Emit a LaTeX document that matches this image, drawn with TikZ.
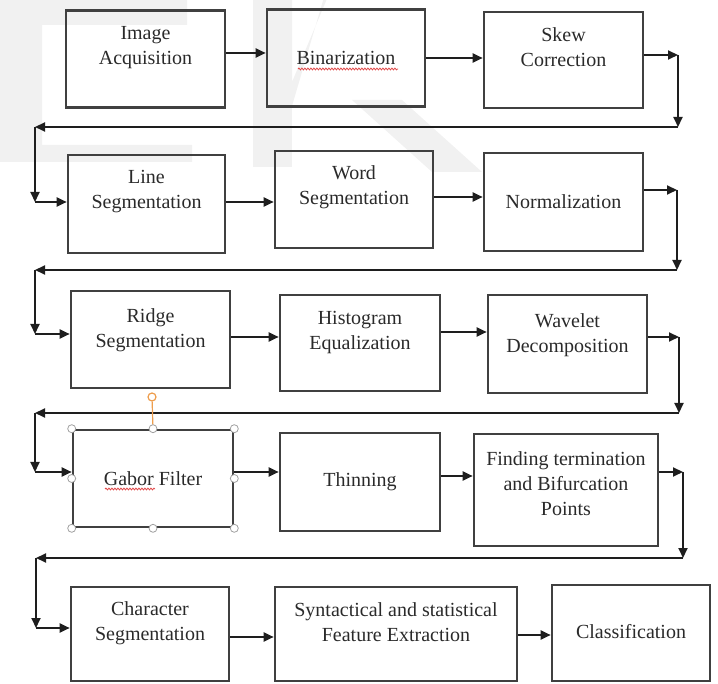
\documentclass[tikz,border=0pt]{standalone}
\usepackage{fontspec}
\setmainfont{Liberation Serif}
\usepackage{xcolor}
\usepackage{tikz}
\usetikzlibrary{arrows.meta,decorations.pathmorphing}
\definecolor{ink}{HTML}{1E1E1E}
\definecolor{edge}{HTML}{404040}
\definecolor{txt}{HTML}{2A2A2A}
\definecolor{wmark}{HTML}{F1F1F1}
\definecolor{hgray}{HTML}{A0A0A0}
\definecolor{orng}{HTML}{EE9E4E}
\definecolor{squig}{HTML}{E04848}
\tikzset{
  box/.style={draw=edge, line width=2.6pt, minimum width=159pt, minimum height=97pt, inner sep=0pt},
  lbl/.style={text=txt, font=\fontsize{20}{25}\selectfont, align=center},
  arr/.style={draw=ink, line width=2pt, -{Triangle[length=10pt,width=9pt]}},
  wavy/.style={draw=squig, line width=0.8pt, decorate, decoration={snake, amplitude=0.9pt, segment length=3pt}},
  hnd/.style={circle, draw=hgray, fill=white, line width=0.8pt, inner sep=0pt, minimum size=8pt},
  rothnd/.style={circle, draw=orng, fill=white, line width=1.2pt, inner sep=0pt, minimum size=8pt},
  rotline/.style={draw=orng, line width=1.2pt}
}

\begin{document}
\begin{tikzpicture}[x=1pt,y=-1pt]
  \useasboundingbox (0,0) rectangle (718,684);

  % faint watermark letters
  \fill[wmark] (0,0) rectangle (42,162) (42,0) rectangle (187,25) (42,145) rectangle (192,162);
  \fill[wmark] (253,0) rectangle (292,167);
  \fill[wmark, even odd rule] (292,-30) -- (372,-30) arc[start angle=90, end angle=-90, radius=68] -- (292,106) -- cycle
    (292,-6) -- (366,-6) arc[start angle=90, end angle=-90, radius=44] -- (292,82) -- cycle;
  \fill[wmark] (352,100) -- (402,100) -- (482,172) -- (432,172) -- cycle;

  % boxes
  \node[box] (acq) at (145.5,59) {};
  \node[box, minimum width=158pt] (bin) at (346,58) {};
  \node[box, minimum height=96pt] (skew) at (563.5,60) {};
  \node[box, minimum width=157pt, minimum height=98pt] (line) at (146.5,204) {};
  \node[box, minimum width=158pt] (word) at (354,199.5) {};
  \node[box, minimum height=98pt] (norm) at (563.5,202) {};
  \node[box] (ridge) at (150.5,339.5) {};
  \node[box, minimum width=160pt, minimum height=96pt] (hist) at (360,343) {};
  \node[box, minimum height=98pt] (wave) at (567.5,344) {};
  \node[box, minimum width=160pt] (gabor) at (153,478.5) {};
  \node[box, minimum width=160pt, minimum height=98pt] (thin) at (360,482) {};
  \node[box, minimum width=184pt, minimum height=112pt] (find) at (566,490) {};
  \node[box, minimum width=158pt, minimum height=94pt] (char) at (150,634) {};
  \node[box, minimum width=242pt, minimum height=94pt] (feat) at (396,634) {};
  \node[box, minimum width=158pt, minimum height=96pt] (class) at (631,633) {};

  % texts
  \node[lbl] (acqT) at ([yshift=11pt]acq.center) {Image\\Acquisition};
  \node[lbl] (binT) at (bin.center) {Binarization};
  \node[lbl] (skewT) at ([yshift=13pt]skew.center) {Skew\\Correction};
  \node[lbl] (lineT) at ([yshift=12pt]line.center) {Line\\Segmentation};
  \node[lbl] (wordT) at ([yshift=12pt]word.center) {Word\\Segmentation};
  \node[lbl] (normT) at (norm.center) {Normalization};
  \node[lbl] (ridgeT) at ([yshift=9pt]ridge.center) {Ridge\\Segmentation};
  \node[lbl] (histT) at ([yshift=10pt]hist.center) {Histogram\\Equalization};
  \node[lbl] (waveT) at ([yshift=9pt]wave.center) {Wavelet\\Decomposition};
  \node[lbl] (gaborT) at (gabor.center) {Gabor Filter};
  \node[lbl] (thinT) at (thin.center) {Thinning};
  \node[lbl] (findT) at ([yshift=6pt]find.center) {Finding termination\\and Bifurcation\\Points};
  \node[lbl] (charT) at ([yshift=11pt]char.center) {Character\\Segmentation};
  \node[lbl] (featT) at ([yshift=12pt]feat.center) {Syntactical and statistical\\Feature Extraction};
  \node[lbl] (classT) at ([yshift=1pt]class.center) {Classification};

  % spelling marks
  \draw[wavy] (298,69) -- (398,69);
  \draw[wavy] (105,489) -- (155,489);

  % arrows along the rows
  \draw[arr] (acq.east |- 0,53) -- (bin.west |- 0,53);
  \draw[arr] (bin.east |- 0,58) -- (skew.west |- 0,58);
  \draw[arr] (line.east |- 0,202) -- (word.west |- 0,202);
  \draw[arr] (word.east |- 0,197) -- (norm.west |- 0,197);
  \draw[arr] (ridge.east |- 0,337) -- (hist.west |- 0,337);
  \draw[arr] (hist.east |- 0,332) -- (wave.west |- 0,332);
  \draw[arr] (gabor.east |- 0,472) -- (thin.west |- 0,472);
  \draw[arr] (thin.east |- 0,476) -- (find.west |- 0,476);
  \draw[arr] (char.east |- 0,637) -- (feat.west |- 0,637);
  \draw[arr] (feat.east |- 0,635) -- (class.west |- 0,635);

  % returns to the next row
  \coordinate (r1) at (678,55);
  \coordinate (d1) at (678,127);
  \coordinate (l1) at (35,127);
  \draw[arr] (skew.east |- r1) -- (r1);
  \draw[arr] (r1) -- (d1);
  \draw[arr] (d1) -- (l1);
  \draw[arr] (l1) -- (l1 |- 0,202);
  \draw[arr] (l1 |- 0,202) -- (line.west |- 0,202);

  \coordinate (r2) at (677,190);
  \coordinate (d2) at (677,270);
  \coordinate (l2) at (35,270);
  \draw[arr] (norm.east |- r2) -- (r2);
  \draw[arr] (r2) -- (d2);
  \draw[arr] (d2) -- (l2);
  \draw[arr] (l2) -- (l2 |- 0,334);
  \draw[arr] (l2 |- 0,334) -- (ridge.west |- 0,334);

  \coordinate (r3) at (679,337);
  \coordinate (d3) at (679,413);
  \coordinate (l3) at (35,413);
  \draw[arr] (wave.east |- r3) -- (r3);
  \draw[arr] (r3) -- (d3);
  \draw[arr] (d3) -- (l3);
  \draw[arr] (l3) -- (l3 |- 0,472);
  \draw[arr] (l3 |- 0,472) -- (gabor.west |- 0,472);

  \coordinate (r4) at (683,472);
  \coordinate (d4) at (683,558);
  \coordinate (l4) at (36,558);
  \draw[arr] (find.east |- r4) -- (r4);
  \draw[arr] (r4) -- (d4);
  \draw[arr] (d4) -- (l4);
  \draw[arr] (l4) -- (l4 |- 0,628);
  \draw[arr] (l4 |- 0,628) -- (char.west |- 0,628);

  % selection handles on the Gabor box
  \node[rothnd] (rot) at (152,397) {};
  \draw[rotline] (rot) -- (gabor.north);
  \foreach \a in {north west,north,north east,east,south east,south,south west,west}
    \node[hnd] at (gabor.\a) {};
\end{tikzpicture}
\end{document}
